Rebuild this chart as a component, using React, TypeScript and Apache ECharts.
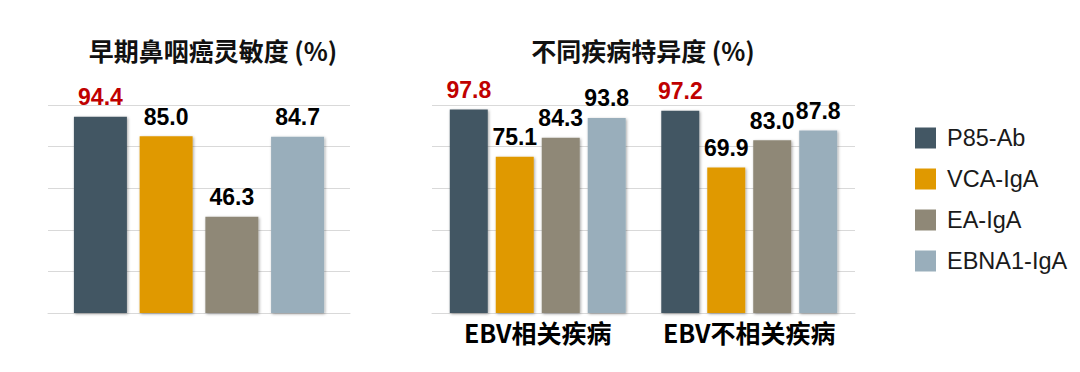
import React, { useEffect, useRef } from "react";
import * as echarts from "echarts";

const seriesNames = ["P85-Ab", "VCA-IgA", "EA-IgA", "EBNA1-IgA"];
const colors = ["#435764", "#e09900", "#8f8877", "#99aebb"];
const leftTitle = "早期鼻咽癌灵敏度 (%)";
const rightTitle = "不同疾病特异度 (%)";
const sensitivity = [94.4, 85.0, 46.3, 84.7];
const rightCategories = ["EBV相关疾病", "EBV不相关疾病"];
const specificity = [
  [97.8, 97.2],
  [75.1, 69.9],
  [84.3, 83.0],
  [93.8, 87.8],
];

const LATIN = "'Liberation Sans', Arial, sans-serif";
const CJK = "'Noto Sans CJK SC', 'Liberation Sans', sans-serif";

export default function App() {
  const ref = useRef<HTMLDivElement>(null);
  useEffect(() => {
    const chart = echarts.init(ref.current!, undefined, { renderer: "svg" });
    const labelFor = (i: number) => ({
      show: true,
      position: "top",
      distance: 8,
      color: i === 0 ? "#c00000" : "#000000",
      fontSize: 23,
      fontWeight: "bold",
      fontFamily: LATIN,
      formatter: (p: any) => Number(p.value).toFixed(1),
    });
    const itemStyle = (i: number) => ({
      color: colors[i],
      shadowBlur: 3,
      shadowColor: "rgba(0,0,0,0.35)",
      shadowOffsetX: 1,
      shadowOffsetY: 1,
    });
    const series: any[] = [];
    seriesNames.forEach((name, i) => {
      series.push({
        type: "bar",
        name,
        xAxisIndex: 0,
        yAxisIndex: 0,
        data: [sensitivity[i]],
        barWidth: 53,
        barGap: "24%",
        label: labelFor(i),
        itemStyle: itemStyle(i),
      });
    });
    seriesNames.forEach((name, i) => {
      series.push({
        type: "bar",
        name,
        xAxisIndex: 1,
        yAxisIndex: 1,
        data: specificity[i],
        barWidth: 38,
        barGap: "21%",
        label: labelFor(i),
        itemStyle: itemStyle(i),
      });
    });
    const yAxis = (gridIndex: number) => ({
      type: "value",
      gridIndex,
      min: 0,
      max: 100,
      interval: 20,
      axisLabel: { show: false },
      axisLine: { show: false },
      axisTick: { show: false },
      splitLine: { lineStyle: { color: "#d9d9d9", width: 1 } },
    });
    chart.setOption({
      animation: false,
      backgroundColor: "#ffffff",
      title: [
        {
          text: leftTitle,
          left: 208,
          top: 32,
          textAlign: "center",
          textStyle: { fontSize: 25, fontWeight: "bold", color: "#111", fontFamily: CJK },
        },
        {
          text: rightTitle,
          left: 638,
          top: 32,
          textAlign: "center",
          textStyle: { fontSize: 25, fontWeight: "bold", color: "#111", fontFamily: CJK },
        },
      ],
      legend: {
        orient: "vertical",
        left: 910,
        top: 121,
        data: seriesNames,
        itemWidth: 21,
        itemHeight: 21,
        itemGap: 17,
        icon: "rect",
        textStyle: { fontSize: 23.5, color: "#1a1a1a", fontFamily: LATIN, padding: [0, 0, 0, 6] },
      },
      grid: [
        { left: 48, right: 730, top: 105, bottom: 59 },
        { left: 432, right: 225, top: 105, bottom: 59 },
      ],
      xAxis: [
        {
          type: "category",
          gridIndex: 0,
          data: [""],
          axisLabel: { show: false },
          axisTick: { show: false },
          axisLine: { lineStyle: { color: "#d9d9d9" } },
        },
        {
          type: "category",
          gridIndex: 1,
          data: rightCategories,
          axisLabel: {
            interval: 0,
            fontSize: 25,
            fontWeight: "bold",
            color: "#000",
            fontFamily: CJK,
            margin: 6,
          },
          axisTick: { show: false },
          axisLine: { lineStyle: { color: "#d9d9d9" } },
        },
      ],
      yAxis: [yAxis(0), yAxis(1)],
      series,
    });
    return () => chart.dispose();
  }, []);
  return (
    <div
      ref={ref}
      style={{ position: "absolute", left: 0, top: 0, width: 1080, height: 372 }}
    />
  );
}
